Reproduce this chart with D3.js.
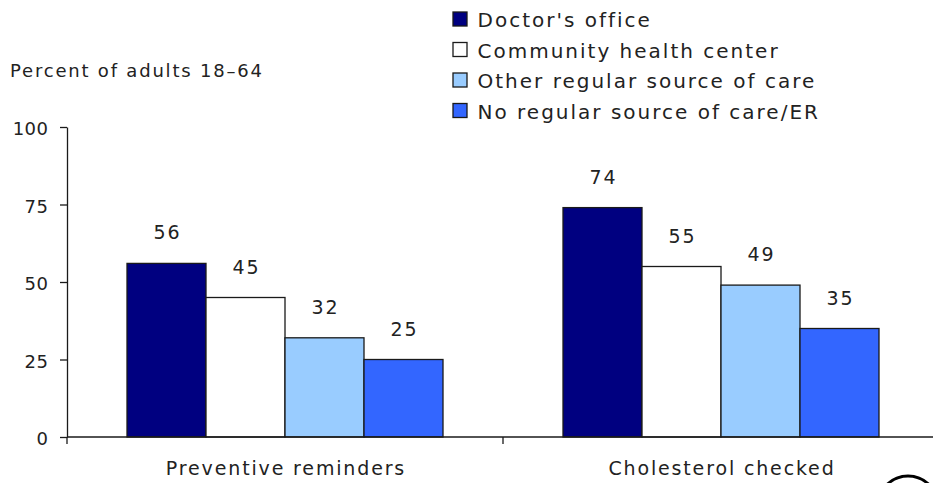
<!DOCTYPE html>
<html>
<head>
<meta charset="utf-8">
<script src="https://cdn.jsdelivr.net/npm/d3@7/dist/d3.min.js"></script>
<style>
  html, body { margin: 0; padding: 0; background: #fff; }
  svg { display: block; }
  text { font-family: "DejaVu Sans", Verdana, sans-serif; fill: #222; }
</style>
</head>
<body>
<svg id="chart" width="933" height="483"></svg>
<script>
// Chart data
const categories = ["Preventive reminders", "Cholesterol checked"];
const series = ["Doctor's office", "Community health center", "Other regular source of care", "No regular source of care/ER"];
const seriesColors = ["#000080", "#FFFFFF", "#99CCFF", "#3366FF"];
const doctorsOffice = [56, 74];
const communityHealthCenter = [45, 55];
const otherRegularSource = [32, 49];
const noRegularSource = [25, 35];
const yTicks = [0, 25, 50, 75, 100];
const yAxisTitle = "Percent of adults 18\u201364";

const values = [doctorsOffice, communityHealthCenter, otherRegularSource, noRegularSource];
const rows = [];
categories.forEach((c, ci) => {
  series.forEach((s, si) => rows.push({ category: c, series: s, si, value: values[si][ci] }));
});

const svg = d3.select("#chart");

const y = d3.scaleLinear().domain([0, 100]).range([437, 127]);
const x0 = d3.scaleBand().domain(categories).range([67, 939]);
const x1 = d3.scaleBand().domain(series).range([60, 376]);
const color = d3.scaleOrdinal().domain(series).range(seriesColors);

// Bars
svg.append("g").selectAll("rect").data(rows).join("rect")
  .attr("x", d => x0(d.category) + x1(d.series))
  .attr("y", d => y(d.value))
  .attr("width", x1.bandwidth())
  .attr("height", d => y(0) - y(d.value))
  .attr("fill", d => color(d.series))
  .attr("stroke", "#1a1a1a")
  .attr("stroke-width", 1.3);

// Value labels
svg.append("g").selectAll("text").data(rows).join("text")
  .attr("x", d => x0(d.category) + x1(d.series) + x1.bandwidth() / 2 + 1)
  .attr("y", d => y(d.value) - 24)
  .attr("text-anchor", "middle")
  .style("font-size", "19px")
  .style("letter-spacing", "2px")
  .text(d => d.value);

// Y axis
const yAxis = svg.append("g")
  .attr("transform", "translate(67,0)")
  .call(d3.axisLeft(y).tickValues(yTicks).tickSize(7).tickPadding(11.5).tickSizeOuter(0));
yAxis.select(".domain").attr("stroke", "#1a1a1a").attr("stroke-width", 1.3);
yAxis.selectAll(".tick line").attr("stroke", "#1a1a1a").attr("stroke-width", 1.3);
yAxis.selectAll(".tick text")
  .attr("dy", "0.42em")
  .style("font-size", "18px")
  .style("letter-spacing", "0.5px")
  .style("font-family", "DejaVu Sans, sans-serif")
  .attr("fill", "#222");

// X axis: baseline with ticks at category boundaries
const xAxisG = svg.append("g").attr("transform", `translate(0,${y(0)})`);
xAxisG.append("line")
  .attr("x1", x0.range()[0]).attr("x2", x0.range()[1])
  .attr("stroke", "#1a1a1a").attr("stroke-width", 1.3);
const boundaries = categories.map(c => x0(c)).concat([x0.range()[1]]);
xAxisG.selectAll("line.tick").data(boundaries).join("line")
  .attr("class", "tick")
  .attr("x1", d => d).attr("x2", d => d)
  .attr("y1", 0).attr("y2", 7)
  .attr("stroke", "#1a1a1a").attr("stroke-width", 1.3);

// Category labels
svg.append("g").selectAll("text").data(categories).join("text")
  .attr("x", d => x0(d) + x0.bandwidth() / 2 + 1)
  .attr("y", 475)
  .attr("text-anchor", "middle")
  .style("font-size", "19px")
  .style("letter-spacing", "1.85px")
  .text(d => d);

// Y axis title
svg.append("text")
  .attr("x", 10).attr("y", 77)
  .style("font-size", "18px")
  .style("letter-spacing", "1.8px")
  .text(yAxisTitle);

// Legend
const legend = svg.append("g").attr("transform", "translate(453,12)");
const item = legend.selectAll("g").data(series).join("g")
  .attr("transform", (d, i) => `translate(0,${i * 30.5})`);
item.append("rect")
  .attr("width", 14).attr("height", 14)
  .attr("fill", d => color(d))
  .attr("stroke", "#1a1a1a").attr("stroke-width", 1.3);
item.append("text")
  .attr("x", 24.5).attr("y", 15)
  .style("font-size", "20px")
  .style("letter-spacing", "2px")
  .text(d => d);

// Corner emblem ring
svg.append("circle")
  .attr("cx", 908).attr("cy", 506).attr("r", 30)
  .attr("fill", "none").attr("stroke", "#000").attr("stroke-width", 3);
</script>
</body>
</html>
